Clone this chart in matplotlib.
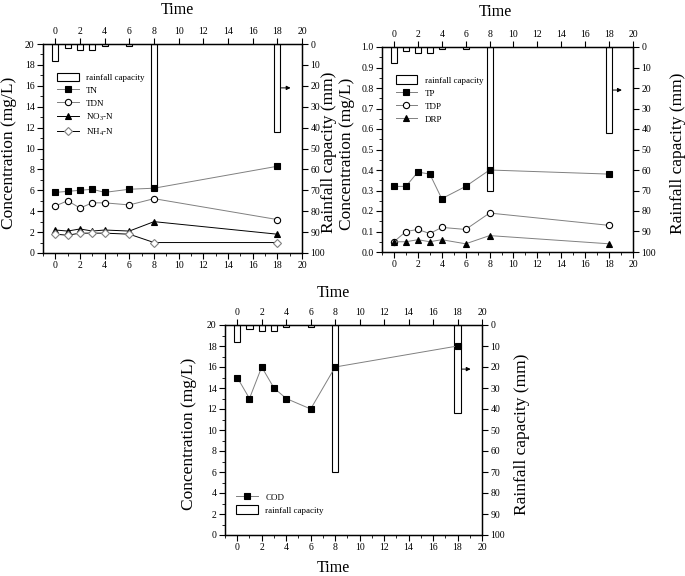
import numpy as np
import matplotlib
matplotlib.use("Agg")
import matplotlib.pyplot as plt
from matplotlib.patches import Rectangle

plt.rcParams['font.family'] = ['Liberation Serif', 'DejaVu Serif']
plt.rcParams['mathtext.fontset'] = 'custom'
plt.rcParams['mathtext.rm'] = 'Liberation Serif'
plt.rcParams['mathtext.it'] = 'Liberation Serif'

# ---- sampling time (h) and rainfall (mm)
time = [0, 1, 2, 3, 4, 6, 8, 18]
rain = [8, 2, 3, 3, 1, 1, 70, 42]

# ---- nitrogen (mg/L)
tn = [5.8, 5.9, 6.0, 6.1, 5.8, 6.1, 6.2, 8.3]
tdn = [4.5, 5.0, 4.3, 4.8, 4.8, 4.6, 5.2, 3.2]
no3 = [2.2, 2.1, 2.3, 2.1, 2.2, 2.1, 3.0, 1.8]
nh4 = [1.8, 1.7, 1.9, 1.9, 1.9, 1.8, 1.0, 1.0]

# ---- phosphorus (mg/L)
tp = [0.32, 0.32, 0.39, 0.38, 0.26, 0.32, 0.40, 0.38]
tdp = [0.05, 0.10, 0.11, 0.09, 0.12, 0.11, 0.19, 0.13]
drp = [0.05, 0.05, 0.06, 0.05, 0.06, 0.04, 0.08, 0.04]

# ---- COD (mg/L)
cod = [15, 13, 16, 14, 13, 12, 16, 18]

W, H = 685, 576
fig = plt.figure(figsize=(6.85, 5.76), dpi=100)


def px_axes(l, t, r, b):
    return fig.add_axes([l / W, 1 - b / H, (r - l) / W, (b - t) / H])


def setup(ax, ymax, ystep, yminor, fmt, lx, rx):
    ax.set_xlim(-1, 20)
    ax.set_ylim(0, ymax)
    ax.set_xticks(np.arange(0, 21, 2))
    ax.set_xticks(np.arange(-1, 21, 1), minor=True)
    ax.set_yticks(np.arange(0, ymax + ystep / 2, ystep))
    ax.set_yticks(np.arange(0, ymax + yminor / 2, yminor), minor=True)
    ax.set_yticklabels([fmt % v for v in np.arange(0, ymax + ystep / 2, ystep)])
    ax.tick_params(which='both', top=True, labeltop=True, direction='out',
                   labelsize=7, pad=2)
    ax.tick_params(which='major', length=4, width=0.8)
    ax.tick_params(which='minor', length=2, width=0.6)
    ax.tick_params(axis='x', which='minor', top=False)
    for s in ax.spines.values():
        s.set_linewidth(1.0)
    ax.set_ylabel('Concentration (mg/L)', fontsize=12.5)
    ax.yaxis.set_label_coords(lx, 0.48)

    ax2 = ax.twinx()
    ax2.bar(time, rain, width=0.5, color='white', edgecolor='black', linewidth=0.8)
    ax2.set_ylim(100, 0)
    ax2.set_yticks(np.arange(0, 101, 10))
    ax2.tick_params(direction='out', labelsize=7, length=4, width=0.8, pad=2)
    ax2.set_ylabel('Rainfall capacity (mm)', fontsize=12.5)
    ax2.yaxis.set_label_coords(rx, 0.48)
    ax2.annotate('', xy=(19.3, 21), xytext=(18.1, 21),
                 arrowprops=dict(arrowstyle='-|>', lw=0.7, color='black',
                                 mutation_scale=6))
    ax.set_zorder(ax2.zorder + 1)
    ax.patch.set_visible(False)
    return ax2


def series(ax, y, marker, mfc, mec, lc, label, ms=4.5):
    ax.plot(time, y, color=lc, lw=0.7, marker=marker, ms=ms, mfc=mfc,
            mec=mec, mew=0.8, label=label, clip_on=False)


def legend(ax, handles, labels, **kw):
    ax.legend(handles, labels, frameon=False, fontsize=6.5, handlelength=2.4,
              handleheight=1.1, labelspacing=0.4, borderaxespad=0, **kw)


rain_patch = Rectangle((0, 0), 1, 1, facecolor='white', edgecolor='black', lw=0.8)

# ---- panel 1: nitrogen
ax1 = px_axes(43, 44, 302, 253)
ax1b = setup(ax1, 20, 2, 1, '%d', -0.10, 1.073)
series(ax1, tn, 's', 'black', 'black', 'gray', 'TN')
series(ax1, tdn, 'o', 'white', 'black', 'gray', 'TDN')
series(ax1, no3, '^', 'black', 'black', 'black', 'NO$_3$-N')
series(ax1, nh4, 'D', 'white', 'gray', 'black', 'NH$_4$-N', ms=4)
h, l = ax1.get_legend_handles_labels()
legend(ax1, [rain_patch] + h, ['rainfall capacity'] + l, loc='upper left',
       bbox_to_anchor=(0.04, 0.88))
fig.text(177 / W, 1 - 10 / H, 'Time', ha='center', va='center', fontsize=11.5)

# ---- panel 2: phosphorus
ax2 = px_axes(382, 47, 633, 252)
ax2b = setup(ax2, 1.0, 0.1, 0.05, '%.1f', -0.108, 1.147)
series(ax2, tp, 's', 'black', 'black', 'gray', 'TP')
series(ax2, tdp, 'o', 'white', 'black', 'gray', 'TDP')
series(ax2, drp, '^', 'black', 'black', 'gray', 'DRP')
h, l = ax2.get_legend_handles_labels()
legend(ax2, [rain_patch] + h, ['rainfall capacity'] + l, loc='upper left',
       bbox_to_anchor=(0.04, 0.88))
fig.text(495 / W, 1 - 12 / H, 'Time', ha='center', va='center', fontsize=11.5)

# ---- panel 3: COD
ax3 = px_axes(225, 325, 482, 535)
ax3b = setup(ax3, 20, 2, 1, '%d', -0.109, 1.125)
series(ax3, cod, 's', 'black', 'black', 'gray', 'COD')
h, l = ax3.get_legend_handles_labels()
legend(ax3, h + [rain_patch], l + ['rainfall capacity'], loc='lower left',
       bbox_to_anchor=(0.03, 0.08))
fig.text(333 / W, 1 - 293 / H, 'Time', ha='center', va='center', fontsize=11.5)
fig.text(333 / W, 1 - 568 / H, 'Time', ha='center', va='center', fontsize=11.5)

fig.savefig('out.png', dpi=100)
